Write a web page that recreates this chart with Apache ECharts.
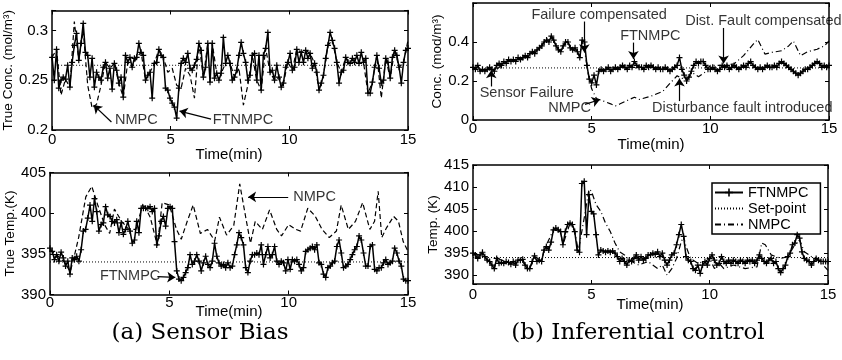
<!DOCTYPE html>
<html>
<head>
<meta charset="utf-8">
<script src="https://cdn.jsdelivr.net/npm/echarts@6/dist/echarts.min.js"></script>
<style>
  html, body { margin: 0; background: #fff; }
  #chart { width: 842px; height: 360px; }
</style>
</head>
<body>
<div id="chart"></div>
<script>
// ---- data ----
// (a) top: true concentration, uniform samples over 0..15 min
var concBiasFt = [
  0.273,0.250,0.281,0.242,0.250,0.253,0.251,0.265,0.243,0.268,
  0.285,0.297,0.270,0.287,0.307,0.278,0.275,0.253,0.272,0.243,
  0.258,0.253,0.250,0.263,0.268,0.252,0.262,0.241,0.267,0.260,
  0.247,0.253,0.233,0.275,0.268,0.273,0.263,0.272,0.273,0.287,
  0.278,0.275,0.250,0.255,0.258,0.232,0.267,0.268,0.281,0.275,
  0.273,0.242,0.240,0.232,0.227,0.223,0.212,0.242,0.267,0.272,
  0.268,0.277,0.262,0.260,0.265,0.271,0.287,0.280,0.253,0.263,
  0.287,0.248,0.287,0.252,0.257,0.250,0.257,0.293,0.267,0.275,
  0.267,0.250,0.253,0.260,0.275,0.288,0.277,0.268,0.250,0.255,
  0.275,0.277,0.250,0.275,0.240,0.275,0.282,0.298,0.258,0.260,
  0.250,0.265,0.253,0.243,0.247,0.263,0.268,0.277,0.260,0.263,
  0.281,0.268,0.278,0.268,0.280,0.272,0.277,0.262,0.267,0.258,
  0.240,0.247,0.255,0.272,0.285,0.298,0.290,0.282,0.268,0.247,
  0.258,0.260,0.273,0.268,0.267,0.272,0.268,0.275,0.267,0.278,
  0.268,0.272,0.237,0.237,0.248,0.263,0.275,0.262,0.247,0.250,
  0.272,0.268,0.252,0.273,0.280,0.275,0.263,0.247,0.268,0.280,
  0.282
]
var concBiasNmpc = [
  0.273,0.281,0.235,0.251,0.243,0.309,0.270,0.300,0.245,0.222,
  0.226,0.245,0.268,0.262,0.267,0.247,0.233,0.268,0.263,0.273,
  0.278,0.250,0.258,0.267,0.281,0.273,0.258,0.262,0.245,0.242,
  0.262,0.255,0.232,0.287,0.253,0.287,0.287,0.257,0.257,0.267,
  0.267,0.253,0.262,0.225,0.245,0.275,0.250,0.240,0.282,0.258,
  0.250,0.253,0.247,0.268,0.260,0.281,0.278,0.280,0.277,0.267,
  0.240,0.255,0.285,0.290,0.268,0.258,0.273,0.267,0.268,0.267,
  0.268,0.237,0.248,0.275,0.232,0.272,0.252,0.280,0.263,0.268,
  0.290
]
var concBiasSet = [[0, 0.265], [15, 0.265]]

// (a) bottom: true temperature
var tempBiasFt = [
  395.7,395.3,394.3,394.9,394.1,395.2,394.5,393.5,394.1,392.5,
  394.5,394.3,394.7,394.1,395.5,397.8,398.0,399.4,401.0,399.0,
  401.8,400.2,397.8,398.6,398.8,400.8,399.8,399.6,399.0,398.8,
  399.2,397.6,398.8,397.4,398.0,399.0,397.8,396.3,396.7,399.0,
  397.6,400.6,400.6,400.6,400.6,400.8,400.2,400.6,396.1,397.2,
  399.0,399.6,398.4,400.6,400.8,400.6,396.5,392.9,391.9,391.7,
  392.1,392.7,393.3,394.9,393.7,394.1,394.9,394.1,392.9,393.9,
  394.7,393.7,393.3,394.1,396.3,394.7,393.9,393.5,393.7,393.3,
  393.9,393.3,393.5,394.9,396.1,397.6,397.0,396.1,393.3,392.7,
  394.1,394.9,394.9,395.1,394.9,396.1,393.7,394.9,395.9,394.5,
  394.9,395.9,394.1,393.7,394.1,393.9,392.9,394.3,393.1,394.3,
  394.1,394.3,393.7,392.9,393.3,395.3,395.5,395.7,395.9,395.5,
  396.1,393.9,393.7,392.5,392.1,393.3,393.5,393.9,394.1,395.9,
  396.7,395.1,393.3,393.5,393.7,394.3,394.9,395.5,395.9,397.2,
  396.7,395.1,393.5,393.5,395.9,396.1,393.1,392.9,393.3,393.3,
  393.9,394.3,393.7,393.9,394.1,395.7,395.1,394.1,393.5,391.9,
  391.7,391.7
]
var tempBiasNmpc = [
  [0,395.5],[0.3,394.8],[0.6,394.0],[0.85,392.8],[1.0,394.5],[1.2,397],[1.5,402],[1.75,403.3],
  [2.0,401],[2.3,398.5],[2.5,397.5],[2.7,400.5],[3.0,399],[3.3,398],[3.6,398],[3.9,401.2],
  [4.2,399.5],[4.5,396],[4.7,401.3],[5.0,401],[5.3,398],[5.5,396.8],[5.75,399],[6.0,401],
  [6.3,397.5],[6.6,398],[6.9,396.6],[7.1,399.5],[7.4,397.3],[7.7,398.5],[7.95,403.6],[8.2,399.5],
  [8.4,396.3],[8.6,399],[8.9,398],[9.2,400.4],[9.5,398],[9.7,397.2],[10.0,398.6],[10.3,398],
  [10.5,397.8],[10.8,400.6],[11.1,399.7],[11.4,398],[11.7,397],[12.0,397.8],[12.2,401],[12.5,398],
  [12.8,399],[13.1,401.3],[13.4,398],[13.6,399],[13.75,402.7],[13.9,397],[14.1,398.2],[14.4,399.6],
  [14.6,399],[14.8,396.5],[15.0,395.3]
]
var tempBiasSet = [[0, 394], [15, 394]]

// (b) top: concentration, inferential control (0.1 min samples)
var concInfFt = [
  0.27,0.26,0.28,0.25,0.26,0.25,0.26,0.27,0.26,0.25,0.28,
  0.29,0.28,0.30,0.29,0.31,0.30,0.31,0.30,0.32,0.31,
  0.32,0.33,0.32,0.34,0.35,0.34,0.36,0.37,0.38,0.40,
  0.41,0.40,0.43,0.41,0.38,0.36,0.35,0.38,0.40,0.40,
  0.37,0.36,0.37,0.35,0.32,0.41,0.40,0.28,0.21,0.19,
  0.23,0.18,0.25,0.26,0.25,0.26,0.27,0.25,0.26,0.27,
  0.26,0.27,0.28,0.27,0.26,0.28,0.27,0.30,0.28,0.27,
  0.27,0.26,0.28,0.27,0.28,0.27,0.26,0.27,0.26,0.26,
  0.27,0.26,0.25,0.26,0.27,0.28,0.32,0.26,0.23,0.20,
  0.22,0.25,0.28,0.30,0.29,0.30,0.30,0.28,0.26,0.26,
  0.27,0.26,0.25,0.26,0.28,0.27,0.28,0.26,0.27,0.28,
  0.27,0.26,0.27,0.28,0.27,0.29,0.30,0.28,0.27,0.26,
  0.27,0.26,0.27,0.28,0.27,0.27,0.28,0.27,0.29,0.30,
  0.29,0.28,0.27,0.26,0.25,0.24,0.23,0.24,0.25,0.26,
  0.26,0.27,0.28,0.29,0.30,0.29,0.27,0.28,0.27,0.28
]
var concInfNmpc = [
  [0,0.27],[0.3,0.25],[0.6,0.26],[0.9,0.25],[1.2,0.28],[1.5,0.31],[2.0,0.31],[2.4,0.34],
  [2.8,0.37],[3.0,0.40],[3.3,0.43],[3.5,0.38],[3.7,0.35],[3.9,0.40],[4.0,0.40],[4.2,0.36],
  [4.4,0.35],[4.5,0.32],[4.6,0.41],[4.7,0.36],[4.85,0.24],[5.0,0.16],[5.2,0.11],[5.5,0.097],
  [5.8,0.083],[6.0,0.072],[6.2,0.083],[6.5,0.1],[6.8,0.117],[7.0,0.105],[7.5,0.122],[8.0,0.147],
  [8.3,0.188],[8.6,0.227],[8.8,0.213],[9.0,0.213],[9.3,0.238],[9.5,0.222],[9.8,0.247],[10.0,0.28],
  [10.5,0.28],[11.0,0.288],[11.4,0.33],[11.8,0.388],[12.0,0.413],[12.3,0.338],[12.6,0.347],[13.0,0.355],
  [13.3,0.38],[13.5,0.405],[13.8,0.33],[14.1,0.35],[14.5,0.363],[14.8,0.38],[15.0,0.405]
]
var concInfSet = [[0, 0.267], [15, 0.267]]

// (b) bottom: temperature, inferential control (0.1 min samples)
var tempInfFt = [
  395.0,394.6,393.8,394.6,395.2,394.2,393.4,393.1,392.3,391.5,393.8,
  392.7,392.9,392.7,393.1,392.9,392.5,393.1,392.3,393.4,393.4,
  393.6,392.3,391.5,391.5,393.1,394.4,393.1,393.4,393.1,395.7,
  396.5,395.7,397.5,400.3,400.7,400.3,399.9,396.9,399.9,401.5,
  401.8,401.5,399.9,395.7,395.2,410.8,411.3,399.2,408.3,404.5,
  403.9,399.2,394.6,395.7,395.5,395.2,395.5,395.2,395.5,395.0,
  394.2,393.1,393.8,393.1,392.3,393.4,393.1,393.8,394.6,393.4,
  394.2,393.4,393.8,394.6,394.6,395.0,394.7,395.3,394.2,395.0,
  393.4,392.3,393.4,394.6,395.0,396.9,399.2,401.5,398.8,394.2,
  393.4,393.1,391.5,391.1,392.3,390.4,392.3,393.1,392.3,393.8,
  394.6,393.4,392.3,392.7,394.2,393.1,392.7,393.4,392.7,393.4,
  393.1,392.7,393.4,393.1,392.7,393.4,393.1,393.4,392.7,393.4,
  394.6,393.8,393.1,392.7,393.4,393.8,392.7,393.1,391.5,390.6,
  391.5,392.3,394.2,395.0,396.9,397.3,399.2,398.4,395.3,393.8,
  393.4,393.1,392.3,393.1,393.8,393.4,393.1,393.1,393.1,393.1
]
var tempInfNmpc = [
  [0,395],[0.5,394.2],[0.9,391.5],[1.0,393.8],[1.5,392.9],[2.0,393.4],[2.4,391.5],[2.6,394.4],
  [2.9,393.1],[3.0,395.7],[3.4,400.3],[3.7,399.9],[3.8,396.9],[4.1,401.8],[4.3,399.9],[4.45,395.5],
  [4.7,403],[4.9,409.5],[5.0,409.1],[5.2,406],[5.4,404.5],[5.6,401.8],[5.8,399.9],[6.0,397.3],
  [6.2,395.3],[6.4,394.6],[6.6,393.4],[7.0,392.3],[7.4,393.1],[7.8,391.5],[8.0,392.3],[8.2,390.0],
  [8.4,391.5],[8.6,393.8],[8.8,397.6],[8.9,398.8],[9.0,396.5],[9.2,393.8],[9.5,392.7],[9.8,393.1],
  [10.0,393.8],[10.2,391.5],[10.4,392.7],[10.6,391.5],[11.0,392.3],[11.5,391.5],[12.0,391.9],[12.2,397.3],
  [12.35,396.9],[12.6,394.6],[13.0,393.8],[13.3,394.2],[13.6,396.9],[13.8,398],[14.0,395.3],[14.3,394.2],
  [14.6,393.4],[14.8,392.3],[15.0,391.1]
]
var tempInfSet = [[0, 394], [15, 394]]

// annotations: text anchor (left edge, middle), arrow tail -> head
var notesConcBias = [
  { text: 'NMPC', at: [2.65, 0.21], from: [2.5, 0.208], to: [1.75, 0.225] },
  { text: 'FTNMPC', at: [6.77, 0.21], from: [6.7, 0.211], to: [5.37, 0.219] }
]
var notesTempBias = [
  { text: 'NMPC', at: [10.19, 402.0], from: [9.98, 402.0], to: [8.3, 402.0] },
  { text: 'FTNMPC', at: [2.09, 392.3], from: [4.5, 392.2], to: [5.25, 392.1] }
]
var notesConcInf = [
  { text: 'Failure compensated', at: [2.46, 0.538], from: [4.69, 0.505], to: [4.69, 0.347] },
  { text: 'FTNMPC', at: [6.2, 0.43], from: [6.76, 0.397], to: [6.76, 0.313] },
  { text: 'Dist. Fault compensated', at: [8.94, 0.51], from: [10.56, 0.472], to: [10.56, 0.29] },
  { text: 'Sensor Failure', at: [0.28, 0.138], from: [0.77, 0.172], to: [0.77, 0.255] },
  { text: 'NMPC', at: [3.17, 0.063], from: [4.72, 0.08], to: [5.35, 0.105] },
  { text: 'Disturbance fault introduced', at: [7.54, 0.063], from: [8.7, 0.097], to: [8.7, 0.213] }
]

var legendNames = ['FTNMPC', 'Set-point', 'NMPC']
var timeTitle = 'Time(min)'

// ---- chart ----
var sans = "'Liberation Sans', Arial, sans-serif"
var plus = 'path://M4,0H6V4H10V6H6V10H4V6H0V4H4Z'
var plainText = { fontFamily: sans, fontWeight: 'normal', color: '#000' }

// uniform sample times over 0..15 min
function withTime(arr) {
  return arr.map(function (v, i) { return [i * 15 / (arr.length - 1), v] })
}

function xAxes(g, labelMargin) {
  var base = {
    gridIndex: g, type: 'value', min: 0, max: 15, interval: 5,
    axisLine: { onZero: false, lineStyle: { color: '#000', width: 1.5 } },
    axisTick: { inside: true, length: 4, lineStyle: { color: '#000' } },
    splitLine: { show: false }
  }
  return [
    Object.assign({}, base, {
      position: 'bottom',
      axisLabel: Object.assign({ margin: labelMargin, fontSize: 15 }, plainText)
    }),
    Object.assign({}, base, { position: 'top', axisLabel: { show: false } })
  ]
}

function yAxes(g, o) {
  var base = {
    gridIndex: g, type: 'value', min: o.min, max: o.max, interval: o.interval,
    axisLine: { show: true, onZero: false, lineStyle: { color: '#000', width: 1.5 } },
    axisTick: { show: true, inside: true, length: 4, lineStyle: { color: '#000' } },
    splitLine: { show: false }
  }
  return [
    Object.assign({}, base, {
      position: 'left', name: o.name, nameLocation: 'middle', nameGap: o.nameGap, nameRotate: 90,
      nameTextStyle: Object.assign({ fontSize: 13.5 }, plainText),
      axisLabel: Object.assign({ margin: 4, fontSize: 15, formatter: o.fmt }, plainText)
    }),
    Object.assign({}, base, { position: 'right', axisLabel: { show: false } })
  ]
}

function ftSeries(g, data) {
  return {
    name: 'FTNMPC', type: 'line', xAxisIndex: 2 * g, yAxisIndex: 2 * g, data: data,
    symbol: plus, symbolSize: 6, z: 4,
    itemStyle: { color: '#000' },
    lineStyle: { color: '#000', width: 1.5 }
  }
}
function nmpcSeries(g, data, dash) {
  return {
    name: 'NMPC', type: 'line', xAxisIndex: 2 * g, yAxisIndex: 2 * g, data: data,
    symbol: 'none', z: 3,
    itemStyle: { color: '#000' },
    lineStyle: { color: '#000', width: 1.2, type: dash }
  }
}
function setSeries(g, data) {
  return {
    name: 'Set-point', type: 'line', xAxisIndex: 2 * g, yAxisIndex: 2 * g, data: data,
    symbol: 'none', z: 2,
    itemStyle: { color: '#000' },
    lineStyle: { color: '#000', width: 1, type: [1, 2] }
  }
}
function noteSeries(g, notes) {
  return {
    type: 'scatter', xAxisIndex: 2 * g, yAxisIndex: 2 * g, symbolSize: 0, z: 6, silent: true,
    data: notes.map(function (n) { return { name: n.text, value: n.at } }),
    label: Object.assign({
      show: true, position: 'right', distance: 0, formatter: '{b}', fontSize: 14.5
    }, plainText),
    markLine: {
      silent: true, symbol: ['none', 'arrow'], symbolSize: 8,
      label: { show: false },
      lineStyle: { color: '#000', type: 'solid', width: 1.2 },
      data: notes.map(function (n) { return [{ coord: n.from }, { coord: n.to }] })
    }
  }
}
function textAt(x, y, text, font) {
  return {
    type: 'text', x: x, y: y, silent: true,
    style: { text: text, font: font, fill: '#000', align: 'center', verticalAlign: 'middle', textAlign: 'center', textVerticalAlign: 'middle' }
  }
}

var chart = echarts.init(document.getElementById('chart'), null, { renderer: 'canvas' })

var dashed = [5, 3]
var dashDot = [6, 3, 1, 3]
var axisFont = "15px 'Liberation Sans', Arial, sans-serif"
var captionFont = '23px "DejaVu Serif"'

var option = {
  animation: false,
  backgroundColor: '#fff',
  grid: [
    { left: 50, top: 10.5, width: 358, height: 119.5 },
    { left: 473, top: 3, width: 356, height: 117 },
    { left: 50, top: 172.5, width: 358, height: 122 },
    { left: 473, top: 165, width: 355, height: 119 }
  ],
  xAxis: [].concat(xAxes(0, 2), xAxes(1, 1), xAxes(2, 1), xAxes(3, 3)),
  yAxis: [].concat(
    yAxes(0, {
      min: 0.2, max: 0.32, interval: 0.05, name: 'True Conc. (mol/m³)', nameGap: 30,
      fmt: function (v) { return Math.abs(v * 20 - Math.round(v * 20)) < 1e-6 ? String(+v.toFixed(2)) : '' }
    }),
    yAxes(1, {
      min: 0, max: 0.6, interval: 0.2, name: 'Conc. (mod/m³)', nameGap: 21,
      fmt: function (v) { return v < 0.5 ? String(+v.toFixed(1)) : '' }
    }),
    yAxes(2, {
      min: 390, max: 405, interval: 5, name: 'True Temp.(K)', nameGap: 30,
      fmt: function (v) { return String(v) }
    }),
    yAxes(3, {
      min: 388, max: 415, name: 'Temp. (K)', nameGap: 26,
      fmt: function (v) { return v % 5 === 0 ? String(v) : '' }
    })
  ),
  legend: {
    data: [
      { name: legendNames[0] },
      { name: legendNames[1], itemStyle: { opacity: 0 } },
      { name: legendNames[2], itemStyle: { opacity: 0 } }
    ],
    orient: 'vertical', left: 712, top: 183,
    itemWidth: 28, itemHeight: 10, itemGap: 1, padding: [2, 12, 2, 2],
    borderColor: '#000', borderWidth: 1.5, backgroundColor: '#fff',
    textStyle: Object.assign({ fontSize: 14.5 }, plainText),
    selectedMode: false
  },
  graphic: [
    textAt(229, 155, timeTitle, axisFont),
    textAt(651, 145, timeTitle, axisFont),
    textAt(229, 312, timeTitle, axisFont),
    textAt(650, 305, timeTitle, axisFont),
    textAt(200, 333, '(a) Sensor Bias', captionFont),
    textAt(638, 333, '(b) Inferential control', captionFont)
  ],
  series: [
    // panel (b) bottom first so the legend takes its line styles
    ftSeries(3, withTime(tempInfFt)),
    setSeries(3, tempInfSet),
    nmpcSeries(3, tempInfNmpc, dashDot),

    ftSeries(0, withTime(concBiasFt)),
    setSeries(0, concBiasSet),
    nmpcSeries(0, withTime(concBiasNmpc), dashed),
    noteSeries(0, notesConcBias),

    ftSeries(1, withTime(concInfFt)),
    setSeries(1, concInfSet),
    nmpcSeries(1, concInfNmpc, dashDot),
    noteSeries(1, notesConcInf),

    ftSeries(2, withTime(tempBiasFt)),
    setSeries(2, tempBiasSet),
    nmpcSeries(2, tempBiasNmpc, dashed),
    noteSeries(2, notesTempBias)
  ]
}

chart.setOption(option)
</script>
</body>
</html>
